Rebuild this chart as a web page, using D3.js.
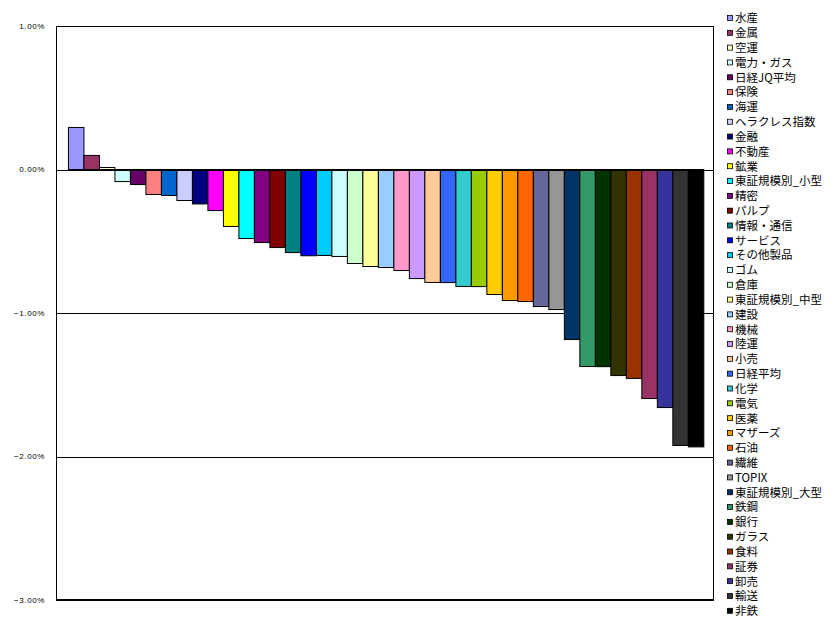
<!DOCTYPE html>
<html>
<head>
    <meta charset="utf-8">
    <title>業種別騰落率</title>
    <script src="https://cdnjs.cloudflare.com/ajax/libs/d3/7.8.5/d3.min.js"></script>
    <style>
        body {
            margin: 0;
            background-color: white;
        }
        #chart {
            width: 836px;
            height: 631px;
        }
    </style>
</head>
<body>
    <div id="chart"></div>

    <script>
        // 業種名 (legend order = bar order)
        const names = ['水産', '金属', '空運', '電力・ガス', '日経JQ平均', '保険', '海運', 'ヘラクレス指数',
            '金融', '不動産', '鉱業', '東証規模別_小型', '精密', 'パルプ', '情報・通信', 'サービス',
            'その他製品', 'ゴム', '倉庫', '東証規模別_中型', '建設', '機械', '陸運', '小売', '日経平均',
            '化学', '電気', '医薬', 'マザーズ', '石油', '繊維', 'TOPIX', '東証規模別_大型', '鉄鋼',
            '銀行', 'ガラス', '食料', '証券', '卸売', '輸送', '非鉄'];

        // 騰落率 (%)
        const values = [0.293, 0.098, 0.014, -0.084, -0.105, -0.174, -0.181, -0.216,
            -0.24, -0.286, -0.397, -0.481, -0.509, -0.544, -0.579, -0.601,
            -0.599, -0.606, -0.655, -0.676, -0.683, -0.704, -0.76, -0.787, -0.788,
            -0.815, -0.816, -0.871, -0.913, -0.92, -0.955, -0.976, -1.185, -1.373,
            -1.374, -1.436, -1.456, -1.596, -1.659, -1.923, -1.933];

        const colors = ['#9999FF', '#993366', '#FFFFCC', '#CCFFFF', '#660066', '#FF8080', '#0066CC', '#CCCCFF',
            '#000080', '#FF00FF', '#FFFF00', '#00FFFF', '#800080', '#800000', '#008080', '#0000FF',
            '#00CCFF', '#CCFFFF', '#CCFFCC', '#FFFF99', '#99CCFF', '#FF99CC', '#CC99FF', '#FFCC99', '#3366FF',
            '#33CCCC', '#99CC00', '#FFCC00', '#FF9900', '#FF6600', '#666699', '#969696', '#003366', '#339966',
            '#003300', '#333300', '#993300', '#993366', '#333399', '#333333', '#000000'];

        const yTicks = [1, 0, -1, -2, -3];

        const data = names.map((n, i) => ({name: n, value: values[i], color: colors[i]}));

        const plot = {left: 56, right: 714, top: 26, bottom: 600};

        const svg = d3.select('#chart')
            .append('svg')
                .attr('width', 836)
                .attr('height', 631);

        const x = d3.scaleBand()
            .domain(names)
            .range([plot.left, plot.right])
            .paddingInner(0)
            .paddingOuter(0.73)
            .align(0.55);

        const y = d3.scaleLinear()
            .domain([-3, 1])
            .range([plot.bottom, plot.top]);

        // Gridlines
        svg.append('g')
            .selectAll('line')
            .data(yTicks)
            .join('line')
                .attr('x1', plot.left)
                .attr('x2', plot.right)
                .attr('y1', d => Math.round(y(d)) + 0.5)
                .attr('y2', d => Math.round(y(d)) + 0.5)
                .attr('stroke', '#000')
                .attr('stroke-width', 1);

        // Bars
        svg.append('g')
            .selectAll('rect')
            .data(data)
            .join('rect')
                .attr('x', d => x(d.name))
                .attr('y', d => y(Math.max(0, d.value)))
                .attr('width', x.bandwidth())
                .attr('height', d => Math.abs(y(d.value) - y(0)))
                .attr('fill', d => d.color)
                .attr('stroke', '#000')
                .attr('stroke-width', 1);

        // Zero line
        svg.append('line')
            .attr('x1', plot.left)
            .attr('x2', plot.right)
            .attr('y1', Math.round(y(0)) + 0.5)
            .attr('y2', Math.round(y(0)) + 0.5)
            .attr('stroke', '#000');

        // Plot border
        svg.append('rect')
            .attr('x', plot.left + 0.5)
            .attr('y', plot.top + 0.5)
            .attr('width', plot.right - plot.left - 1)
            .attr('height', plot.bottom - plot.top - 1)
            .attr('fill', 'none')
            .attr('stroke', '#000');

        // Y axis labels
        svg.append('g')
            .selectAll('text')
            .data(yTicks)
            .join('text')
                .attr('x', 45)
                .attr('y', d => y(d))
                .attr('dy', '0.35em')
                .attr('text-anchor', 'end')
                .style('font-family', 'Arial, sans-serif')
                .style('font-size', '8px')
                .style('letter-spacing', '0.6px')
                .text(d => d3.format('.2f')(d) + '%');

        // Legend
        const legend = svg.append('g')
            .selectAll('g')
            .data(data)
            .join('g')
                .attr('transform', (d, i) => `translate(727,${18 + i * 14.82})`);

        legend.append('rect')
            .attr('x', 0.5)
            .attr('y', -2.5)
            .attr('width', 5)
            .attr('height', 5)
            .attr('fill', d => d.color)
            .attr('stroke', '#000')
            .attr('stroke-width', 0.8);

        legend.append('text')
            .attr('x', 8)
            .attr('dy', '0.38em')
            .style('font-family', '"Noto Sans CJK JP", sans-serif')
            .style('font-size', '11.5px')
            .text(d => d.name);
    </script>
</body>
</html>
